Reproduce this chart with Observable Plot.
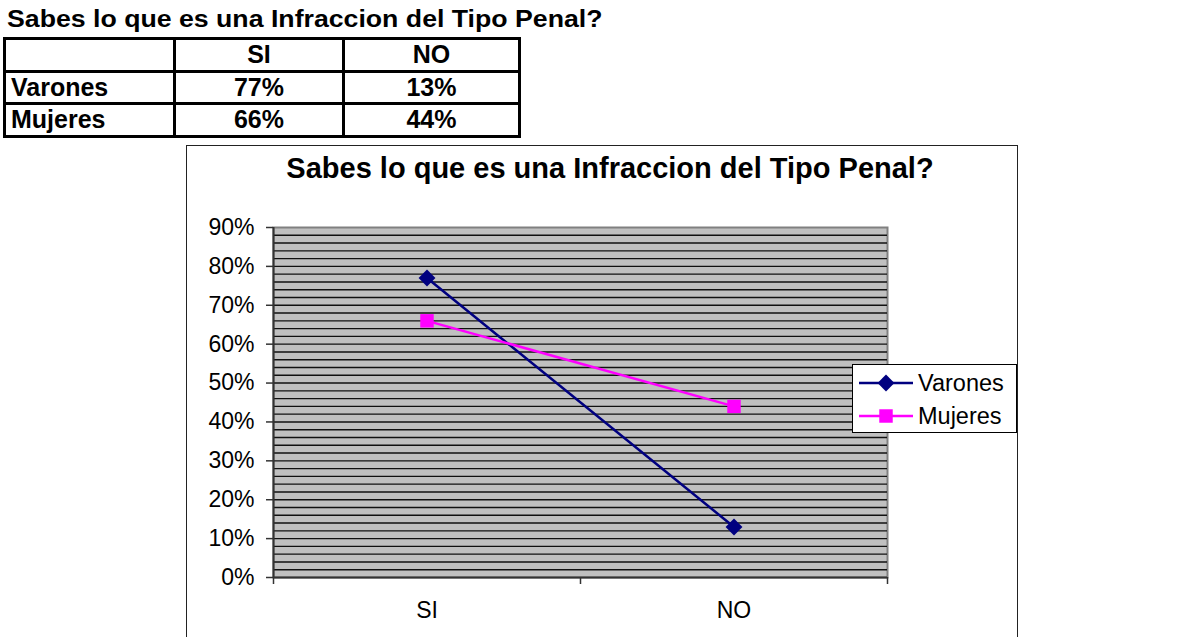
<!DOCTYPE html>
<html>
<head>
<meta charset="utf-8">
<script src="https://cdn.jsdelivr.net/npm/d3@7"></script>
<script src="https://cdn.jsdelivr.net/npm/@observablehq/plot@0.6"></script>
<style>
  html, body { margin: 0; padding: 0; background: #fff; width: 1186px; height: 637px; overflow: hidden; }
  body { font-family: "Liberation Sans", Arial, sans-serif; color: #000; position: relative; }
  #ttl { position: absolute; left: 7px; top: 8px; font-weight: bold; font-size: 23px; line-height: 23px; white-space: nowrap; transform: scaleX(1.16); transform-origin: left top; }
  #tbl { position: absolute; left: 3px; top: 37px; border-collapse: collapse; }
  #tbl td { border: 3px solid #000; padding: 0; height: 29.5px; font-weight: bold; font-size: 25px; line-height: 25px; text-align: center; white-space: nowrap; }
  #tbl td.rl { text-align: left; padding-left: 5px; }
  #box { position: absolute; left: 186px; top: 145px; width: 832px; height: 520px; border: 1.5px solid #222; box-sizing: border-box; }
  #ctitle { position: absolute; left: 186px; width: 848px; top: 154px; text-align: center; font-weight: bold; font-size: 29px; line-height: 29px; white-space: nowrap; }
  #plot { position: absolute; left: 186px; top: 145px; }
  #legend { position: absolute; left: 852px; top: 364px; width: 165px; height: 69px; border: 1px solid #000; background: #fff; box-sizing: border-box; }
  .li { position: absolute; left: 0; height: 30px; width: 163px; }
  .li svg { position: absolute; left: 6px; top: 0; }
  .li span { position: absolute; left: 65px; top: 2px; font-size: 23.5px; line-height: 24px; }
</style>
</head>
<body>
<div id="ttl"></div>
<table id="tbl"></table>
<div id="box"></div>
<div id="ctitle"></div>
<div id="plot"></div>
<div id="legend"></div>
<script>
const titleText = "Sabes lo que es una Infraccion del Tipo Penal?";
const categories = ["SI", "NO"];
const series = ["Varones", "Mujeres"];
const varones = [77, 13];
const mujeres = [66, 44];
const yTicks = [0, 10, 20, 30, 40, 50, 60, 70, 80, 90];
const colors = ["#000080", "#FF00FF"];
const symbols = ["diamond2", "square"];

const values = [varones, mujeres];
const data = series.flatMap((s, si) => categories.map((c, ci) => ({
  series: s, cat: c, pos: ci + 0.5, value: values[si][ci]
})));

// titles
document.getElementById("ttl").textContent = titleText;
document.getElementById("ctitle").textContent = titleText;

// table
const tbl = document.getElementById("tbl");
const colW = [162, 166, 173];
const hdr = tbl.insertRow();
["", ...categories].forEach((t, i) => { const c = hdr.insertCell(); c.textContent = t; c.style.width = colW[i] + "px"; if (i === 0) c.className = "rl"; });
series.forEach((s, si) => {
  const r = tbl.insertRow();
  const c0 = r.insertCell(); c0.textContent = s; c0.className = "rl";
  values[si].forEach(v => { const c = r.insertCell(); c.textContent = v + "%"; });
});

// plot
const gridVals = d3.range(2, 90, 2);
const chart = Plot.plot({
  width: 832,
  height: 492,
  marginLeft: 87,
  marginRight: 131,
  marginTop: 82,
  marginBottom: 60,
  style: { fontFamily: "Liberation Sans, Arial, sans-serif", fontSize: "23px", color: "#000", background: "transparent", overflow: "visible" },
  x: { type: "linear", domain: [0, 2] },
  y: { type: "linear", domain: [0, 90] },
  color: { domain: series, range: colors },
  symbol: { domain: series, range: symbols },
  marks: [
    Plot.frame({ fill: "#C0C0C0", stroke: "#808080", strokeWidth: 2 }),
    Plot.ruleY(gridVals, { stroke: "#111", strokeWidth: 1.4 }),
    Plot.axisY({ ticks: yTicks, tickFormat: d => d + "%", tickSize: 7, tickPadding: 12, fontSize: 23, stroke: "#333", strokeWidth: 1.5, label: null }),
    Plot.axisX({ ticks: [0, 1, 2], tickFormat: () => "", tickSize: 7, stroke: "#333", strokeWidth: 1.5, label: null }),
    Plot.axisX({ ticks: categories.map((c, i) => i + 0.5), tickFormat: d => categories[Math.round(d - 0.5)], tickSize: 0, tickPadding: 24, fontSize: 23, label: null }),
    Plot.ruleX([0], { stroke: "#333", strokeWidth: 2 }),
    Plot.ruleY([0], { stroke: "#333", strokeWidth: 2 }),
    Plot.line(data, { x: "pos", y: "value", z: "series", stroke: "series", strokeWidth: 2.5 }),
    Plot.dot(data, { x: "pos", y: "value", symbol: "series", fill: "series", stroke: "none", r: 7.6 })
  ]
});
document.getElementById("plot").appendChild(chart);

// legend
const legend = d3.select("#legend");
series.forEach((s, i) => {
  const row = legend.append("div").attr("class", "li").style("top", (4 + i * 33) + "px");
  const svg = row.append("svg").attr("width", 56).attr("height", 30);
  svg.append("line").attr("x1", 0).attr("x2", 54).attr("y1", 14).attr("y2", 14).attr("stroke", colors[i]).attr("stroke-width", 2.5);
  const sym = i === 0 ? d3.symbolDiamond2 : d3.symbolSquare;
  const size = 7.6 * 7.6 * Math.PI;
  svg.append("path").attr("d", d3.symbol(sym, size)()).attr("transform", "translate(27,14)").attr("fill", colors[i]);
  row.append("span").text(s);
});
</script>
</body>
</html>
